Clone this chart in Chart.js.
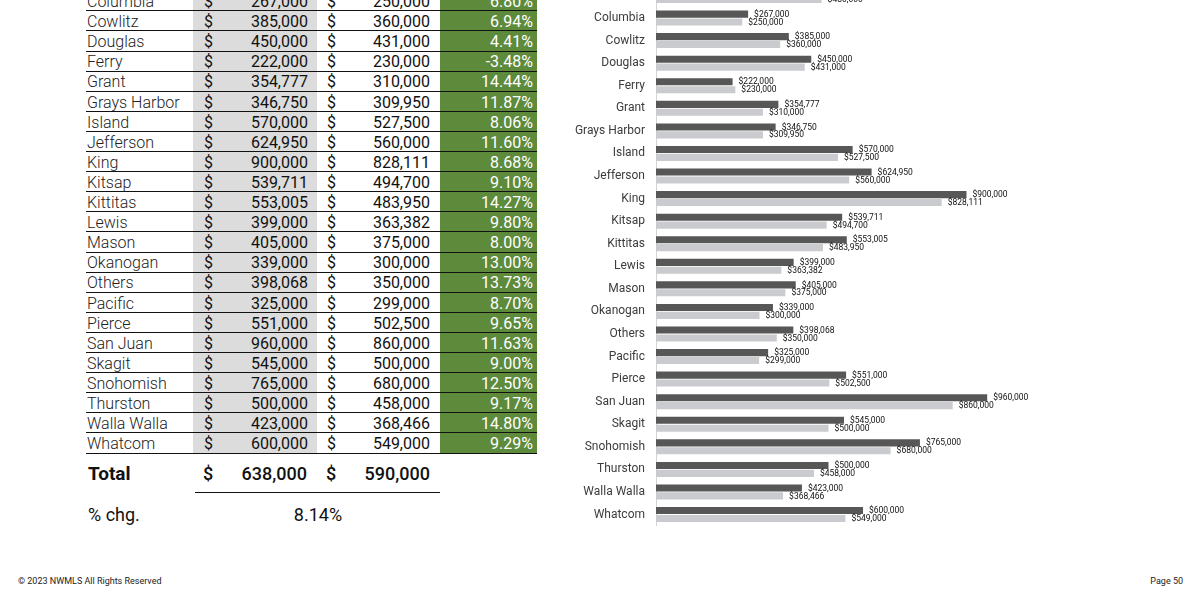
<!DOCTYPE html>
<html>
<head>
<meta charset="utf-8">
<script src="https://cdn.jsdelivr.net/npm/chart.js@4"></script>
<style>
  html, body { margin: 0; padding: 0; background: #fff; }
  body { width: 1200px; height: 600px; position: relative; overflow: hidden; font-family: Roboto, "Noto Sans", sans-serif; color: #111; }
  .cell { position: absolute; height: 20px; line-height: 21px; font-size: 16px; white-space: nowrap; }
  .name { font-weight: 300; color: #222; }
  .num { text-align: right; }
  .pct { text-align: right; color: #fff; }
  .rowline { position: absolute; left: 86px; width: 451px; height: 0; border-top: 1.5px solid #111; }
  #chartBox { position: absolute; left: 540px; top: -34px; }
  .foot { position: absolute; top: 576px; font-size: 9px; color: #222; }
</style>
</head>
<body>
<div id="table"></div>
<div id="chartBox"><canvas id="priceChart" width="560" height="578"></canvas></div>
<div class="foot" style="left:18px;">© 2023 NWMLS All Rights Reserved</div>
<div class="foot" style="right:17px;">Page 50</div>

<script>
// counties visible in the table and chart
const counties = ['Columbia', 'Cowlitz', 'Douglas', 'Ferry', 'Grant', 'Grays Harbor', 'Island', 'Jefferson',
  'King', 'Kitsap', 'Kittitas', 'Lewis', 'Mason', 'Okanogan', 'Others', 'Pacific', 'Pierce', 'San Juan',
  'Skagit', 'Snohomish', 'Thurston', 'Walla Walla', 'Whatcom'];
const price2023 = [267000, 385000, 450000, 222000, 354777, 346750, 570000, 624950, 900000, 539711, 553005,
  399000, 405000, 339000, 398068, 325000, 551000, 960000, 545000, 765000, 500000, 423000, 600000];
const price2022 = [250000, 360000, 431000, 230000, 310000, 309950, 527500, 560000, 828111, 494700, 483950,
  363382, 375000, 300000, 350000, 299000, 502500, 860000, 500000, 680000, 458000, 368466, 549000];
const pctChange = ['6.80%', '6.94%', '4.41%', '-3.48%', '14.44%', '11.87%', '8.06%', '11.60%', '8.68%',
  '9.10%', '14.27%', '9.80%', '8.00%', '13.00%', '13.73%', '8.70%', '9.65%', '11.63%', '9.00%', '12.50%',
  '9.17%', '14.80%', '9.29%'];

// row cut off at the top of the chart (only its lower bar shows)
const topCounty = 'Clark';
const top2023 = 525000;
const top2022 = 480000;

const total2023 = 638000;
const total2022 = 590000;
const totalPct = '8.14%';

// ---- table ----
const fmt = v => v.toLocaleString('en-US');
const tbl = document.getElementById('table');
let html = '';
const rowH = 20.1, firstTop = -9;
const lastBottom = firstTop + rowH * counties.length;
html += `<div style="position:absolute;left:193px;width:124px;top:${firstTop}px;height:${lastBottom - firstTop}px;background:#dcdcdc"></div>`;
html += `<div style="position:absolute;left:440px;width:97px;top:${firstTop}px;height:${lastBottom - firstTop}px;background:#5e8a3c"></div>`;
counties.forEach((c, i) => {
  const t = firstTop + rowH * i;
  html += `<div class="cell name" style="left:87px;top:${t}px">${c}</div>`;
  html += `<div class="cell" style="left:204px;top:${t}px">$</div>`;
  html += `<div class="cell num" style="left:220px;width:88px;top:${t}px">${fmt(price2023[i])}</div>`;
  html += `<div class="cell" style="left:327px;top:${t}px">$</div>`;
  html += `<div class="cell num" style="left:340px;width:90px;top:${t}px">${fmt(price2022[i])}</div>`;
  html += `<div class="cell pct" style="left:445px;width:88px;top:${t}px">${pctChange[i]}</div>`;
  html += `<div class="rowline" style="top:${t + rowH - 0.75}px"></div>`;
});
html += `<div class="cell" style="left:88px;top:463px;font-size:19px;font-weight:700">Total</div>`;
html += `<div class="cell" style="left:203px;top:463px;font-size:18px;font-weight:500">$</div>`;
html += `<div class="cell num" style="left:220px;width:87px;top:463px;font-size:18px;font-weight:500">${fmt(total2023)}</div>`;
html += `<div class="cell" style="left:326px;top:463px;font-size:18px;font-weight:500">$</div>`;
html += `<div class="cell num" style="left:340px;width:90px;top:463px;font-size:18px;font-weight:500">${fmt(total2022)}</div>`;
html += `<div style="position:absolute;left:195px;width:245px;top:492px;border-top:1.5px solid #111"></div>`;
html += `<div class="cell" style="left:88px;top:504px;font-size:18px">% chg.</div>`;
html += `<div class="cell" style="left:268px;width:100px;text-align:center;top:504px;font-size:18px">${totalPct}</div>`;
tbl.innerHTML = html;

// ---- chart ----
const chartLabels = [topCounty].concat(counties);
const chart2023 = [top2023].concat(price2023);
const chart2022 = [top2022].concat(price2022);

const valueLabels = {
  id: 'valueLabels',
  afterDatasetsDraw(chart) {
    const ctx = chart.ctx;
    ctx.save();
    ctx.font = '8.5px Roboto';
    ctx.fillStyle = '#111';
    ctx.textAlign = 'left';
    ctx.textBaseline = 'middle';
    chart.data.datasets.forEach((ds, di) => {
      chart.getDatasetMeta(di).data.forEach((bar, i) => {
        ctx.fillText('$' + fmt(ds.data[i]), bar.x + 6, bar.y + 0.5);
      });
    });
    ctx.restore();
  }
};

new Chart(document.getElementById('priceChart').getContext('2d'), {
  type: 'bar',
  data: {
    labels: chartLabels,
    datasets: [
      { label: '2023', data: chart2023, backgroundColor: '#575757', categoryPercentage: 0.7, barPercentage: 0.9 },
      { label: '2022', data: chart2022, backgroundColor: '#cacbce', categoryPercentage: 0.7, barPercentage: 0.9 }
    ]
  },
  options: {
    indexAxis: 'y',
    responsive: false,
    animation: false,
    layout: { padding: { left: 0, right: 30, top: 0, bottom: 0 } },
    plugins: { legend: { display: false }, tooltip: { enabled: false } },
    scales: {
      x: { display: false, min: 0, max: 1200000 },
      y: {
        grid: { display: false, drawTicks: false },
        border: { display: true, color: '#d4d4d4', width: 1 },
        ticks: { color: '#3c3c3c', font: { family: 'Roboto', size: 12 }, padding: 11 },
        afterFit: s => { s.width = 116; }
      }
    }
  },
  plugins: [valueLabels]
});
</script>
</body>
</html>
